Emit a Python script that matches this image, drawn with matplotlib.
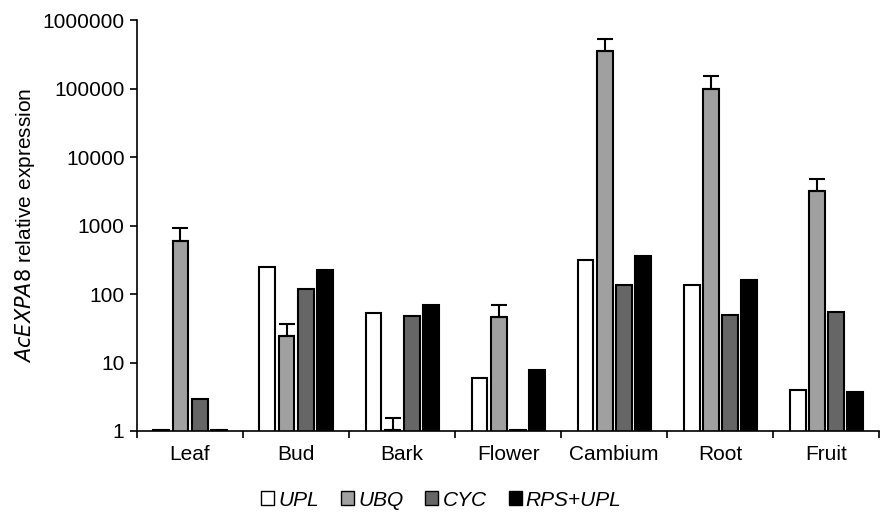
import numpy as np
import matplotlib.pyplot as plt

plt.rcParams['font.family'] = ['Liberation Sans', 'DejaVu Sans']

tissues = ['Leaf', 'Bud', 'Bark', 'Flower', 'Cambium', 'Root', 'Fruit']
series = ['UPL', 'UBQ', 'CYC', 'RPS+UPL']
upl = [1.04, 250, 52, 6.0, 310, 135, 4.0]
ubq = [600, 24, 1.04, 46, 350000, 100000, 3200]
cyc = [2.9, 118, 48, 1.04, 135, 49, 55]
rps_upl = [1.04, 225, 68, 7.7, 360, 160, 3.7]
ubq_err = [330, 13, 0.5, 24, 170000, 50000, 1600]

colors = ['white', '#a0a0a0', '#666666', 'black']
values = [upl, ubq, cyc, rps_upl]
errors = [None, ubq_err, None, None]

fig = plt.figure(figsize=(8.81, 5.16), dpi=100)
ax = fig.add_axes([137 / 881, 1 - 431 / 516, 1 - 137 / 881 - 0.002, (431 - 20) / 516])

x = np.arange(len(tissues))
width = 0.15
step = 0.18
for i, (name, vals, col, err) in enumerate(zip(series, values, colors, errors)):
    pos = x + (i - 1.5) * step
    ax.bar(pos, vals, width, color=col, edgecolor='black', linewidth=1.5,
           label=name, zorder=2)
    if err is not None:
        ax.errorbar(pos, vals, yerr=[np.zeros(len(err)), err], fmt='none',
                    ecolor='black', elinewidth=1.5, capsize=6, capthick=1.5, zorder=3)

ax.set_yscale('log')
ax.set_ylim(1, 1e6)
ax.set_xlim(-0.5, len(tissues) - 0.5)
ax.set_yticks([1, 10, 100, 1000, 10000, 100000, 1000000])
ax.set_yticklabels(['1', '10', '100', '1000', '10000', '100000', '1000000'])
ax.minorticks_off()
ax.set_xticks(x)
ax.set_xticklabels(tissues)
ax.set_xticks(np.arange(len(tissues) + 1) - 0.5, minor=True)
ax.tick_params(axis='x', which='major', length=0, labelsize=15, pad=10)
ax.tick_params(axis='x', which='minor', length=5, width=1.2)
ax.tick_params(axis='y', labelsize=15, length=5, width=1.2, pad=4)

ax.spines['top'].set_visible(False)
ax.spines['right'].set_visible(False)
ax.spines['left'].set_linewidth(1.2)
ax.spines['bottom'].set_linewidth(1.2)

ax.set_ylabel(r'$\it{AcEXPA8}$ relative expression', fontsize=15, labelpad=4)

leg = ax.legend(loc='center', bbox_to_anchor=(0.41, -0.168), ncol=4, frameon=False,
                handlelength=0.63, handleheight=0.63, handletextpad=0.2,
                columnspacing=1.05, prop={'style': 'italic', 'size': 15})
for h in leg.legend_handles:
    h.set_linewidth(1.0)

fig.savefig('out.png', dpi=100)
